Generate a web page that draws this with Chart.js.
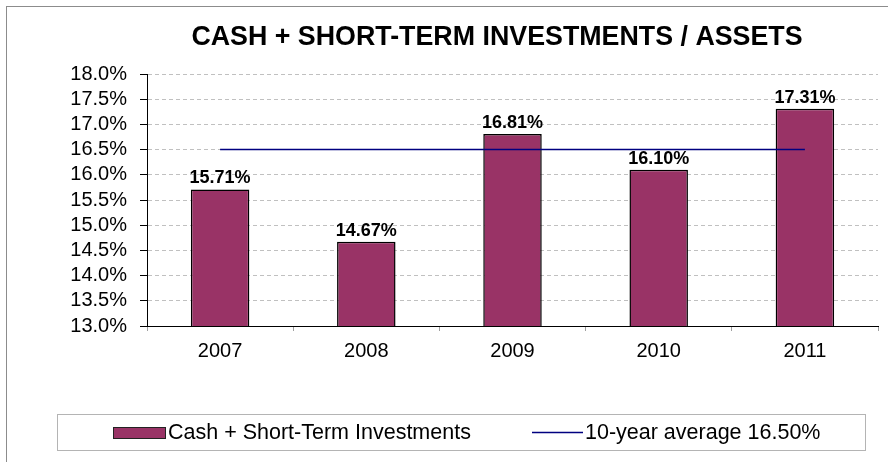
<!DOCTYPE html>
<html>
<head>
<meta charset="utf-8">
<script src="https://cdn.jsdelivr.net/npm/chart.js@4.4.0/dist/chart.umd.min.js"></script>
<style>
  html, body { margin: 0; padding: 0; background: #fff; }
  #wrap { width: 888px; height: 462px; }
</style>
</head>
<body>
<div id="wrap"><canvas id="chart" width="888" height="462"></canvas></div>
<script>
// dados do gráfico
const years = ["2007", "2008", "2009", "2010", "2011"];
const cashRatio = [15.71, 14.67, 16.81, 16.10, 17.31];
const averageValue = 16.5;
const averageLine = [16.5, 16.5, 16.5, 16.5, 16.5];
const yTicks = [13.0, 13.5, 14.0, 14.5, 15.0, 15.5, 16.0, 16.5, 17.0, 17.5, 18.0];

const chartTitle = "CASH + SHORT-TERM INVESTMENTS / ASSETS";
const barLabel = "Cash + Short-Term Investments";
const lineLabel = "10-year average " + averageValue.toFixed(2) + "%";

const FONT = "'Liberation Sans', Arial, sans-serif";
const BAR_COLOR = "#993366";
const LINE_COLOR = "#000080";

// desenha moldura, título, rótulos das barras e legenda
const decorPlugin = {
  id: "decor",
  beforeDraw(chart) {
    const ctx = chart.ctx;
    ctx.save();
    ctx.fillStyle = "#fff";
    ctx.fillRect(0, 0, chart.width, chart.height);
    ctx.restore();
  },
  afterDraw(chart) {
    const ctx = chart.ctx;
    ctx.save();

    // moldura externa
    ctx.strokeStyle = "#8c8c8c";
    ctx.lineWidth = 1;
    ctx.strokeRect(6.5, 6.5, 920, 520);

    // título
    ctx.fillStyle = "#000";
    ctx.font = "bold 26.8px " + FONT;
    ctx.textAlign = "center";
    ctx.textBaseline = "alphabetic";
    ctx.fillText(chartTitle, 497, 45);

    // rótulos de valor sobre as barras
    const meta = chart.getDatasetMeta(1);
    ctx.font = "bold 18px " + FONT;
    ctx.textBaseline = "alphabetic";
    meta.data.forEach((bar, i) => {
      ctx.fillText(cashRatio[i].toFixed(2) + "%", bar.x, bar.y - 6);
    });

    // legenda
    ctx.strokeStyle = "#b4b4b4";
    ctx.strokeRect(57.5, 414.5, 808, 36);

    ctx.fillStyle = BAR_COLOR;
    ctx.fillRect(113, 427, 53, 11);
    ctx.strokeStyle = "#222";
    ctx.strokeRect(113.5, 427.5, 52, 11);

    ctx.fillStyle = "#000";
    ctx.font = "21.5px " + FONT;
    ctx.textAlign = "left";
    ctx.textBaseline = "middle";
    ctx.fillText(barLabel, 168, 433);

    ctx.strokeStyle = LINE_COLOR;
    ctx.lineWidth = 1.5;
    ctx.beginPath();
    ctx.moveTo(532, 432.5);
    ctx.lineTo(583, 432.5);
    ctx.stroke();

    ctx.fillText(lineLabel, 585, 433);
    ctx.restore();
  },
};

const ctx = document.getElementById("chart").getContext("2d");
new Chart(ctx, {
  data: {
    labels: years,
    datasets: [
      {
        type: "line",
        label: lineLabel,
        data: averageLine,
        borderColor: LINE_COLOR,
        borderWidth: 1.5,
        pointRadius: 0,
        fill: false,
        order: 1,
      },
      {
        type: "bar",
        label: barLabel,
        data: cashRatio,
        backgroundColor: BAR_COLOR,
        borderColor: "#000",
        borderWidth: 1.5,
        barPercentage: 0.4,
        categoryPercentage: 1.0,
        order: 2,
      },
    ],
  },
  options: {
    responsive: false,
    animation: false,
    layout: {
      padding: { top: 74, right: 10, bottom: 100, left: 0 },
    },
    plugins: {
      legend: { display: false },
      title: { display: false },
      tooltip: { enabled: false },
    },
    scales: {
      x: {
        offset: true,
        afterFit: (scale) => { scale.height = 36; },
        grid: {
          offset: true,
          drawOnChartArea: false,
          tickLength: 5,
          tickColor: "#a0a0a0",
        },
        border: { color: "#000", width: 1 },
        ticks: {
          color: "#000",
          font: { family: FONT, size: 20 },
          padding: 8,
          maxRotation: 0,
        },
      },
      y: {
        min: 13,
        max: 18,
        afterFit: (scale) => { scale.width = 147; },
        afterBuildTicks: (scale) => {
          scale.ticks = yTicks.map((v) => ({ value: v }));
        },
        grid: {
          color: "#c0c0c0",
          tickColor: "#000",
          tickLength: 7,
          tickBorderDash: [],
        },
        border: { color: "#000", width: 1, dash: [4, 3] },
        ticks: {
          autoSkip: false,
          color: "#000",
          font: { family: FONT, size: 20 },
          padding: 13,
          callback: (v) => Number(v).toFixed(1) + "%",
        },
      },
    },
  },
  plugins: [decorPlugin],
});
</script>
</body>
</html>
